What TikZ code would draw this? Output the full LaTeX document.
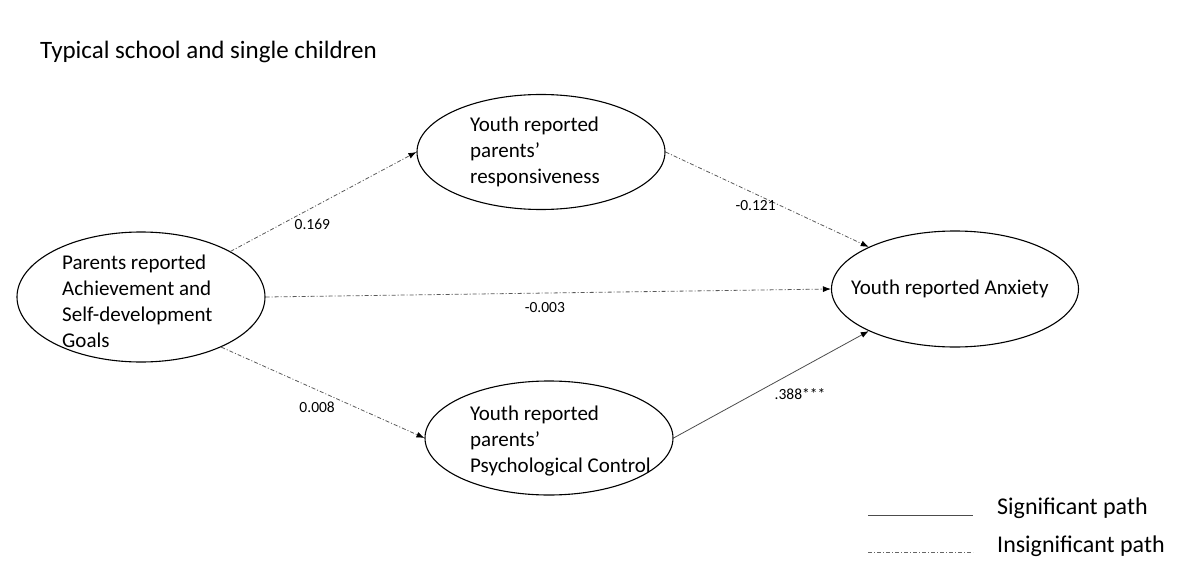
\documentclass[tikz,border=0pt]{standalone}
\usepackage{fontspec}
\setmainfont{Carlito}
\usetikzlibrary{shapes.geometric,arrows.meta}
\begin{document}
\begin{tikzpicture}[x=1pt,y=-1pt,
  construct/.style={draw,line width=1.1pt,ellipse,inner sep=0pt},
  ctext/.style={align=left,font=\fontsize{21}{26}\selectfont,inner sep=0pt},
  coef/.style={font=\fontsize{15.5}{18}\selectfont,inner sep=1pt},
  sigpath/.style={draw=black!70,line width=0.8pt,-{Latex[length=8pt,width=6pt,color=black]}},
  insigpath/.style={draw=black!65,line width=0.8pt,dash pattern=on 4pt off 2pt on 1pt off 2pt,-{Latex[length=8pt,width=6pt,color=black]}},
  legtext/.style={font=\fontsize{24}{28}\selectfont,anchor=west,inner sep=0pt}]
\useasboundingbox (0,0) rectangle (1177,572);

% title
\node[anchor=west,inner sep=0pt,font=\fontsize{25}{30}\selectfont] (title) at (40,52) {Typical school and single children};

% constructs
\node[construct,minimum width=248pt,minimum height=130pt] (par) at (141,297) {};
\node[construct,minimum width=248pt,minimum height=115pt] (resp) at (541,152) {};
\node[construct,minimum width=248pt,minimum height=114pt] (psy) at (549,438) {};
\node[construct,minimum width=247pt,minimum height=116pt] (anx) at (955,289) {};

\node[ctext,anchor=west] (partext) at (62,301) {Parents reported\\Achievement and\\Self-development\\Goals};
\node[ctext,anchor=west] (resptext) at (470,152) {Youth reported\\parents’\\responsiveness};
\node[ctext,anchor=west] (psytext) at (470,441) {Youth reported\\parents’\\Psychological Control};
\node[ctext,anchor=west] (anxtext) at (851,289) {Youth reported Anxiety};

% paths
\draw[insigpath] (par.27) -- (resp.west) node[coef,pos=.44,yshift=-17pt] (c1) {0.169};
\draw[insigpath] (par.east) -- (anx.west) node[coef,pos=.494,yshift=-14pt] (c2) {-0.003};
\draw[insigpath] (par.-32) -- (psy.west) node[coef,pos=.472,yshift=-17pt] (c3) {0.008};
\draw[insigpath] (resp.east) -- (anx.154) node[coef,pos=.443,yshift=-11pt] (c4) {-0.121};
\draw[sigpath] (psy.east) -- (anx.206) node[coef,pos=.648,yshift=-25pt] (c5) {.388***};

% legend
\coordinate (s1) at (868,515);
\coordinate (s2) at (973,515);
\coordinate (i1) at (868,552);
\coordinate (i2) at (973,552);
\draw[black!70,line width=0.8pt] (s1) -- (s2);
\draw[black!60,line width=0.8pt,dash pattern=on 4pt off 2pt on 1pt off 2pt] (i1) -- (i2);
\node[legtext] (sigtext) at (997,508) {Significant path};
\node[legtext] (insigtext) at (997,546) {Insignificant path};
\end{tikzpicture}
\end{document}
